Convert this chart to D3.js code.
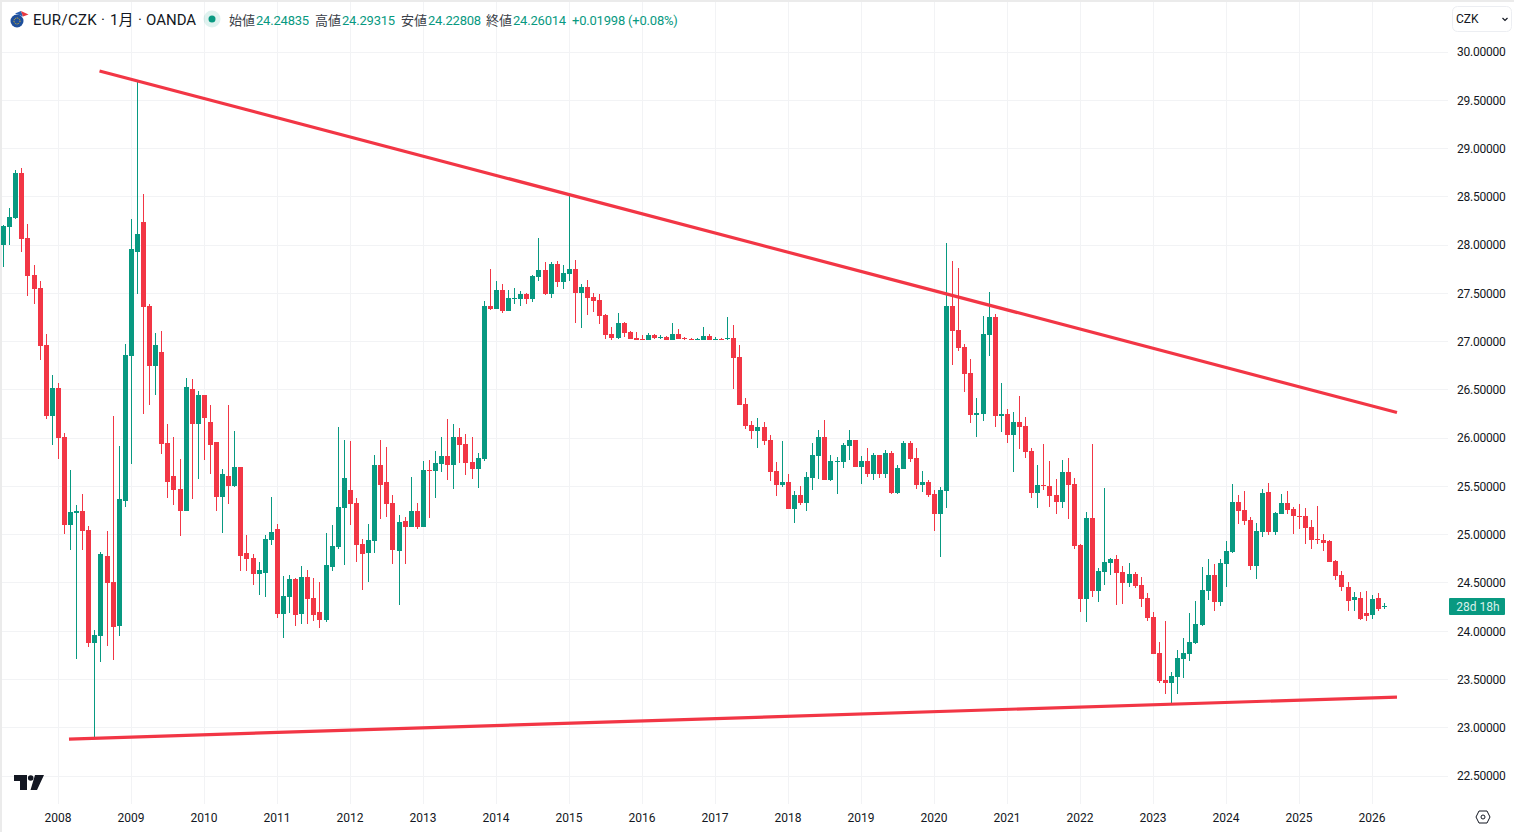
<!DOCTYPE html>
<html lang="ja">
<head>
    <meta charset="UTF-8">
    <title>EUR/CZK 1月 OANDA</title>
    <script src="https://d3js.org/d3.v7.min.js"></script>
    <style>
        body { margin: 0; background: #fff; overflow: hidden; }
        svg { display: block; font-family: Roboto, 'Noto Sans CJK JP', sans-serif; }
        .grid line { stroke: #f2f3f5; stroke-width: 1; }
        .axis text { fill: #131722; font-size: 12px; font-family: Roboto, sans-serif; }
        .axis.price text { letter-spacing: -0.25px; }
        .axis path, .axis line { display: none; }
    </style>
</head>
<body>
    <svg id="chart" width="1514" height="832"></svg>
    <script>
        // monthly candles, first one is Apr 2007, rows are calendar years
        const firstCandleMonth = -9; // months relative to Jan 2008
        const opens = [
            28.004,28.187,28.281,28.747,28.073,27.690,27.555,26.965,26.229,
            26.519,26.012,25.100,25.224,25.245,25.048,23.877,23.950,24.779,24.509,24.054,25.349,
            26.851,27.928,28.239,27.369,26.747,26.892,25.950,25.608,25.473,25.245,26.509,26.146,
            26.447,26.167,25.960,25.390,25.608,25.504,25.701,24.810,24.758,24.592,24.603,24.945,
            25.059,24.178,24.354,24.541,24.178,24.561,24.344,24.199,24.116,24.665,24.872,25.276,
            25.463,25.328,24.903,24.810,24.934,25.722,25.545,25.328,24.831,25.141,25.079,25.245,
            25.079,25.670,25.660,25.732,25.815,25.722,26.012,25.939,25.753,25.680,25.784,27.369,
            27.338,27.535,27.317,27.441,27.441,27.493,27.441,27.669,27.742,27.493,27.804,27.617,
            27.700,27.752,27.504,27.566,27.462,27.431,27.276,27.079,27.037,27.193,27.099,27.037,
            27.027,27.016,27.068,27.037,27.048,27.016,27.079,27.037,27.027,27.016,27.016,27.058,
            27.016,27.027,27.027,27.037,26.840,26.354,26.136,26.074,26.115,25.981,25.660,25.514,
            25.545,25.266,25.411,25.328,25.587,25.815,26.011,25.566,25.753,25.753,25.918,25.981,
            25.701,25.763,25.628,25.825,25.628,25.846,25.431,25.680,25.950,25.794,25.514,25.545,
            25.421,25.214,25.452,27.369,27.120,26.944,26.675,26.240,26.250,27.068,27.255,26.229,
            26.250,26.032,26.167,26.126,25.867,25.431,25.514,25.504,25.411,25.338,25.649,25.525,
            24.893,24.333,25.173,24.416,24.613,24.706,24.748,24.613,24.499,24.592,24.478,24.344,
            24.147,23.774,23.494,23.463,23.525,23.712,23.764,23.877,24.064,24.416,24.582,24.302,
            24.696,24.820,25.338,25.255,25.152,24.675,25.028,25.442,25.028,25.214,25.328,25.266,
            25.193,25.193,25.079,24.955,24.945,24.934,24.727,24.582,24.458,24.323,24.344,24.188,
            24.168,24.344,24.24835
        ];
        const highs = [
            28.208,28.384,28.778,28.798,28.218,27.794,27.628,27.079,26.654,
            26.571,26.053,25.670,25.307,25.421,25.090,24.012,24.820,25.038,26.229,25.918,26.975,
            28.270,29.700,28.529,27.390,27.089,27.110,26.146,26.012,25.784,26.623,26.612,26.488,
            26.447,26.343,25.960,25.680,26.343,26.074,25.701,24.996,24.800,24.717,24.996,25.390,
            25.110,24.572,24.582,24.551,24.675,24.634,24.551,24.509,25.017,25.100,26.115,25.981,
            25.970,25.380,24.955,25.110,25.825,25.981,25.908,25.411,25.204,25.183,25.597,25.328,
            25.763,25.773,25.867,26.011,26.198,26.146,26.105,26.043,26.011,25.846,27.421,27.752,
            27.628,27.597,27.535,27.555,27.524,27.504,27.690,28.073,27.825,27.825,27.835,27.794,
            28.529,27.845,27.597,27.638,27.504,27.493,27.286,27.151,27.296,27.203,27.110,27.099,
            27.068,27.089,27.079,27.068,27.058,27.193,27.131,27.048,27.037,27.037,27.151,27.079,
            27.048,27.037,27.255,27.172,26.965,26.416,26.177,26.209,26.167,26.032,25.753,25.970,
            25.628,25.452,25.504,25.649,25.950,26.084,26.188,25.825,25.804,25.950,26.084,25.981,
            25.815,25.898,25.846,25.825,25.877,25.867,25.722,25.970,25.970,25.898,25.659,25.566,
            25.463,25.494,28.022,27.835,27.763,26.975,26.820,26.416,27.265,27.514,27.286,26.571,
            26.302,26.271,26.436,26.219,25.898,25.722,25.939,25.763,25.577,25.773,25.794,25.587,
            24.903,25.235,25.939,24.654,25.483,24.758,24.789,24.675,24.706,24.613,24.561,24.396,
            24.199,23.888,24.105,23.577,23.805,23.929,24.188,24.313,24.665,24.748,24.696,24.748,
            24.934,25.525,25.411,25.452,25.183,25.121,25.473,25.535,25.235,25.421,25.452,25.287,
            25.318,25.276,25.152,25.297,25.007,24.945,24.737,24.623,24.509,24.406,24.406,24.416,
            24.375,24.396,24.29315
        ];
        const lows = [
            27.776,28.001,28.270,27.928,27.472,27.390,26.809,26.198,25.929,
            25.784,25.007,24.841,23.712,24.841,23.836,22.883,23.681,23.846,23.701,23.950,25.287,
            25.732,27.493,26.250,26.343,26.447,25.836,25.380,25.307,24.986,25.245,25.369,25.577,
            25.773,25.628,25.245,25.017,25.318,25.494,24.623,24.623,24.478,24.375,24.354,24.893,
            24.136,23.929,24.188,24.054,24.074,24.074,24.105,24.033,24.095,24.623,24.851,24.686,
            25.100,24.717,24.427,24.509,24.810,25.162,25.183,24.696,24.271,24.696,25.079,25.059,
            25.079,25.173,25.380,25.649,25.566,25.473,25.742,25.618,25.577,25.483,25.763,27.327,
            27.338,27.296,27.317,27.390,27.369,27.390,27.410,27.628,27.483,27.452,27.566,27.545,
            27.628,27.193,27.141,27.276,27.307,27.182,27.027,27.016,27.027,27.048,27.027,27.016,
            27.016,27.016,27.027,27.027,27.016,27.016,27.027,27.016,27.016,27.016,27.016,27.016,
            27.016,27.016,27.016,26.509,26.343,26.095,25.991,25.898,25.929,25.556,25.400,25.494,
            25.266,25.121,25.307,25.245,25.463,25.577,25.566,25.556,25.421,25.691,25.773,25.701,
            25.525,25.597,25.566,25.587,25.587,25.421,25.421,25.680,25.753,25.473,25.442,25.390,
            25.038,24.768,25.276,26.758,26.903,26.478,26.157,26.012,26.177,26.851,26.115,26.063,
            25.950,25.649,25.887,25.794,25.380,25.276,25.463,25.287,25.214,25.276,25.162,24.851,
            24.199,24.095,24.354,24.302,24.478,24.582,24.271,24.282,24.458,24.447,24.250,24.105,
            23.764,23.463,23.349,23.235,23.349,23.515,23.691,23.867,24.054,24.323,24.209,24.261,
            24.458,24.810,25.110,25.100,24.634,24.541,24.976,24.996,24.996,25.214,25.214,25.007,
            25.059,24.903,24.851,24.903,24.831,24.717,24.530,24.416,24.209,24.209,24.116,24.105,
            24.126,24.209,24.22808
        ];
        const closes = [
            28.198,28.291,28.747,28.063,27.680,27.545,26.954,26.229,26.519,
            26.001,25.100,25.235,25.245,25.038,23.877,23.960,24.800,24.499,24.043,25.369,26.861,
            27.959,28.115,27.358,26.747,26.965,25.939,25.545,25.463,25.245,26.530,26.146,26.447,
            26.209,25.929,25.390,25.628,25.504,25.701,24.779,24.748,24.592,24.634,24.955,25.028,
            24.178,24.364,24.541,24.168,24.561,24.333,24.168,24.116,24.686,24.882,25.287,25.587,
            25.318,24.893,24.800,24.945,25.722,25.514,25.318,24.841,25.131,25.079,25.245,25.079,
            25.670,25.660,25.742,25.815,25.722,26.012,25.929,25.742,25.680,25.794,27.369,27.338,
            27.535,27.317,27.452,27.452,27.493,27.441,27.680,27.742,27.493,27.804,27.617,27.711,
            27.752,27.504,27.566,27.452,27.421,27.265,27.068,27.037,27.193,27.089,27.027,27.016,
            27.016,27.068,27.037,27.048,27.016,27.079,27.027,27.027,27.016,27.027,27.058,27.016,
            27.027,27.016,27.037,26.830,26.343,26.126,26.074,26.115,25.970,25.649,25.514,25.545,
            25.266,25.411,25.328,25.597,25.825,26.011,25.566,25.763,25.763,25.929,25.981,25.701,
            25.763,25.628,25.825,25.628,25.846,25.431,25.691,25.950,25.784,25.514,25.545,25.411,
            25.214,25.463,27.369,27.110,26.934,26.664,26.240,26.260,27.079,27.255,26.229,26.250,
            26.032,26.167,26.115,25.856,25.431,25.514,25.504,25.400,25.338,25.649,25.514,24.882,
            24.333,25.173,24.416,24.623,24.717,24.748,24.603,24.499,24.592,24.468,24.333,24.136,
            23.764,23.484,23.463,23.536,23.722,23.774,23.888,24.074,24.427,24.582,24.302,24.706,
            24.831,25.338,25.245,25.141,24.675,25.038,25.431,25.028,25.224,25.328,25.255,25.193,
            25.183,25.069,24.945,24.945,24.914,24.717,24.572,24.458,24.313,24.354,24.126,24.157,
            24.333,24.230,24.26014
        ];

        const yearLabels = d3.range(2008, 2027);
        const priceTicks = d3.range(22.5, 30.5, 0.5);

        // trend lines: months since Jan 2008 and price at both ends
        const upperTrendMonths = [6.76, 220.04];
        const upperTrendPrices = [29.803, 26.266];
        const lowerTrendMonths = [1.74, 220.04];
        const lowerTrendPrices = [22.883, 23.318];

        const titleParts = ['EUR/CZK', '·', '1月', '·', 'OANDA'];
        const titleX = [33, 101, 110, 138, 146];
        const legendNames = ['始値', '高値', '安値', '終値'];
        const legendValues = ['24.24835', '24.29315', '24.22808', '24.26014'];
        const legendNameX = [229, 315, 401, 486];
        const legendValueX = [256, 342, 428, 513];

        const UP = '#089981', DOWN = '#f23645', INK = '#131722';

        const svg = d3.select('#chart');

        // --- Scales ---
        const x = d3.scaleLinear().domain([0, 216]).range([58.4, 1372.4]);
        const y = d3.scaleLinear().domain([22.5, 30]).range([776, 52]);
        const snap = v => Math.floor(v) + 0.5;

        // --- Panel edges ---
        svg.append('rect').attr('width', 1514).attr('height', 2).attr('fill', '#ebebeb');
        svg.append('rect').attr('width', 2).attr('height', 832).attr('fill', '#ebebeb');

        // --- Grid ---
        const grid = svg.append('g').attr('class', 'grid');
        grid.selectAll('.h').data(priceTicks).enter().append('line')
            .attr('x1', 2).attr('x2', 1448)
            .attr('y1', d => snap(y(d))).attr('y2', d => snap(y(d)));
        grid.selectAll('.v').data(yearLabels).enter().append('line')
            .attr('y1', 2).attr('y2', 804)
            .attr('x1', d => snap(x((d - 2008) * 12))).attr('x2', d => snap(x((d - 2008) * 12)));

        // --- Candles ---
        const candles = opens.map((o, i) => ({
            month: firstCandleMonth + i, open: o, high: highs[i], low: lows[i], close: closes[i]
        }));
        const candle = svg.append('g').selectAll('g').data(candles).enter().append('g')
            .attr('fill', d => d.close >= d.open ? UP : DOWN);
        candle.append('rect') // wick
            .attr('x', d => snap(x(d.month)) - 0.5)
            .attr('width', 1)
            .attr('y', d => Math.round(y(d.high)))
            .attr('height', d => Math.max(1, Math.round(y(d.low)) - Math.round(y(d.high))));
        candle.append('rect') // body
            .attr('x', d => snap(x(d.month)) - 2.5)
            .attr('width', 5)
            .attr('y', d => Math.round(y(Math.max(d.open, d.close))))
            .attr('height', d => Math.max(1, Math.round(y(Math.min(d.open, d.close))) - Math.round(y(Math.max(d.open, d.close)))));

        // --- Trend lines ---
        const trend = d3.line().x(d => x(d[0])).y(d => y(d[1]));
        [d3.zip(upperTrendMonths, upperTrendPrices), d3.zip(lowerTrendMonths, lowerTrendPrices)].forEach(pts => {
            svg.append('path').attr('d', trend(pts))
                .attr('fill', 'none').attr('stroke', DOWN).attr('stroke-width', 3.2);
        });

        // --- Axes ---
        const priceAxis = d3.axisRight(y).tickValues(priceTicks).tickFormat(d3.format('.5f')).tickSize(0).tickPadding(0);
        svg.append('g').attr('class', 'axis price').attr('transform', 'translate(1457,0)').call(priceAxis);

        const timeAxis = d3.axisBottom(x)
            .tickValues(yearLabels.map(d => (d - 2008) * 12))
            .tickFormat(d => 2008 + d / 12).tickSize(0).tickPadding(0);
        svg.append('g').attr('class', 'axis').attr('transform', 'translate(-0.8,813)').call(timeAxis);

        // --- Header ---
        const head = svg.append('g');
        head.append('circle').attr('cx', 17).attr('cy', 21).attr('r', 6.5).attr('fill', '#1e4f9c');
        head.append('circle').attr('cx', 17).attr('cy', 21).attr('r', 3).attr('fill', 'none')
            .attr('stroke', '#f5c518').attr('stroke-width', 1).attr('stroke-dasharray', '1 1');
        head.append('path').attr('d', 'M15 13.5 L21 11 L23 16.5 Z').attr('fill', '#2a5fb0');
        head.append('path').attr('d', 'M21 11 L28.5 14.5 L23 16.5 Z').attr('fill', '#e8373f');
        titleParts.forEach((part, i) => {
            head.append('text').attr('x', titleX[i]).attr('y', 25).attr('font-size', 15)
                .attr('letter-spacing', i === 0 ? 0.3 : 0).attr('fill', INK).text(part);
        });
        head.append('circle').attr('cx', 212).attr('cy', 19).attr('r', 8.5).attr('fill', UP).attr('fill-opacity', 0.13);
        head.append('circle').attr('cx', 212).attr('cy', 19).attr('r', 3.5).attr('fill', UP);
        legendNames.forEach((name, i) => {
            head.append('text').attr('x', legendNameX[i]).attr('y', 25).attr('font-size', 13).attr('fill', '#3b3f4a').text(name);
            head.append('text').attr('x', legendValueX[i]).attr('y', 25).attr('font-size', 13)
                .attr('letter-spacing', -0.2).attr('fill', UP).text(legendValues[i]);
        });
        head.append('text').attr('x', 572).attr('y', 25).attr('font-size', 13)
            .attr('letter-spacing', -0.2).attr('fill', UP).text('+0.01998 (+0.08%)');

        // --- Currency button ---
        svg.append('rect').attr('x', 1452.5).attr('y', 6.5).attr('width', 59).attr('height', 25).attr('rx', 5)
            .attr('fill', '#fff').attr('stroke', '#eceef2');
        svg.append('text').attr('x', 1456).attr('y', 23).attr('font-size', 12).attr('fill', INK).text('CZK');
        svg.append('path').attr('d', 'M1502.5 18 L1505 20.5 L1507.5 18').attr('fill', 'none').attr('stroke', INK).attr('stroke-width', 1.2);

        // --- Countdown label ---
        svg.append('rect').attr('x', 1449).attr('y', 598).attr('width', 56).attr('height', 17).attr('rx', 1).attr('fill', UP);
        svg.append('text').attr('x', 1478).attr('y', 611).attr('text-anchor', 'middle').attr('font-size', 12).attr('fill', '#d8f0ea').text('28d 18h');

        // --- Bottom corner marks ---
        svg.append('path').attr('d', 'M14 775 H27 V790 H20 V781 H14 Z M35 775 H44 L37 790 H30.5 Z').attr('fill', INK);
        svg.append('circle').attr('cx', 30.7).attr('cy', 778).attr('r', 2.8).attr('fill', INK);
        svg.append('path').attr('d', 'M1479 811 H1487 L1490 817 L1487 823 H1479 L1476 817 Z').attr('fill', 'none').attr('stroke', INK).attr('stroke-width', 1);
        svg.append('circle').attr('cx', 1483).attr('cy', 817).attr('r', 2).attr('fill', 'none').attr('stroke', INK).attr('stroke-width', 1);
    </script>
</body>
</html>
